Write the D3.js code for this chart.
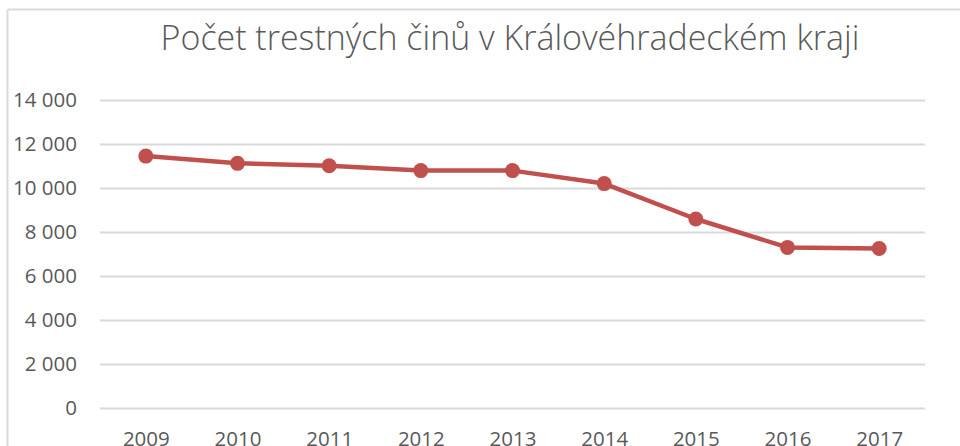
<!DOCTYPE html>
<html>
<head>
<meta charset="utf-8">
<script src="https://cdn.jsdelivr.net/npm/d3@7"></script>
<style>
  html, body { margin: 0; padding: 0; background: #fff; }
  svg { display: block; }
  text { font-family: "Open Sans", "Liberation Sans", sans-serif; fill: #595959; }
</style>
</head>
<body>
<svg width="960" height="446"></svg>
<script>
// data
var years = ["2009", "2010", "2011", "2012", "2013", "2014", "2015", "2016", "2017"];
var crimes = [11450, 11120, 11010, 10790, 10790, 10200, 8590, 7300, 7250];
var yTicks = [0, 2000, 4000, 6000, 8000, 10000, 12000, 14000];
var title = "Počet trestných činů v Královéhradeckém kraji";

var svg = d3.select("svg"),
  width = +svg.attr("width"),
  height = +svg.attr("height");

var czech = d3.formatLocale({decimal: ",", thousands: " ", grouping: [3], currency: ["", " Kč"]});
var fmt = czech.format(",d");

// chart border (only top + left visible in the crop)
svg.append("line")
  .attr("x1", 7.5).attr("x2", width)
  .attr("y1", 9.5).attr("y2", 9.5)
  .attr("stroke", "#d9d9d9").attr("stroke-width", 2);
svg.append("line")
  .attr("x1", 7.5).attr("x2", 7.5)
  .attr("y1", 9.5).attr("y2", height)
  .attr("stroke", "#d9d9d9").attr("stroke-width", 2);

var x = d3.scalePoint()
  .domain(years)
  .range([100, 925])
  .padding(0.5);

var y = d3.scaleLinear()
  .domain([0, 14000])
  .range([408, 100]);

// gridlines + y labels
var yAxis = svg.append("g")
  .attr("transform", "translate(100,0)")
  .call(d3.axisLeft(y).tickValues(yTicks).tickFormat(fmt).tickSize(-825).tickPadding(23));
yAxis.select(".domain").remove();
yAxis.selectAll(".tick line")
  .attr("stroke", "#d9d9d9")
  .attr("stroke-width", 2);
yAxis.selectAll(".tick text")
  .attr("fill", "#595959")
  .attr("font-size", 20.5)
  .attr("font-family", "\"Open Sans\", sans-serif");

// x labels
var xAxis = svg.append("g")
  .attr("transform", "translate(0,408)")
  .call(d3.axisBottom(x).tickSize(0).tickPadding(0));
xAxis.select(".domain").remove();
xAxis.selectAll(".tick text")
  .attr("dy", null)
  .attr("y", 38)
  .attr("fill", "#595959")
  .attr("font-size", 20.5)
  .attr("font-family", "\"Open Sans\", sans-serif");

// line
var line = d3.line()
  .x(function(d, i) { return x(years[i]); })
  .y(function(d) { return y(d); });

svg.append("path")
  .datum(crimes)
  .attr("d", line)
  .attr("fill", "none")
  .attr("stroke", "#c0504d")
  .attr("stroke-width", 4.5)
  .attr("stroke-linejoin", "round");

svg.append("g")
  .selectAll("circle")
  .data(crimes)
  .enter()
  .append("circle")
    .attr("cx", function(d, i) { return x(years[i]); })
    .attr("cy", function(d) { return y(d); })
    .attr("r", 7.5)
    .attr("fill", "#c0504d");

// title, shrink to the width it has in the original
var t = svg.append("text")
  .attr("x", 510)
  .attr("y", 50)
  .attr("text-anchor", "middle")
  .attr("font-size", 34)
  .attr("font-weight", 300)
  .text(title);
var w = t.node().getComputedTextLength();
if (w > 699) t.attr("font-size", 34 * 699 / w);
</script>
</body>
</html>
